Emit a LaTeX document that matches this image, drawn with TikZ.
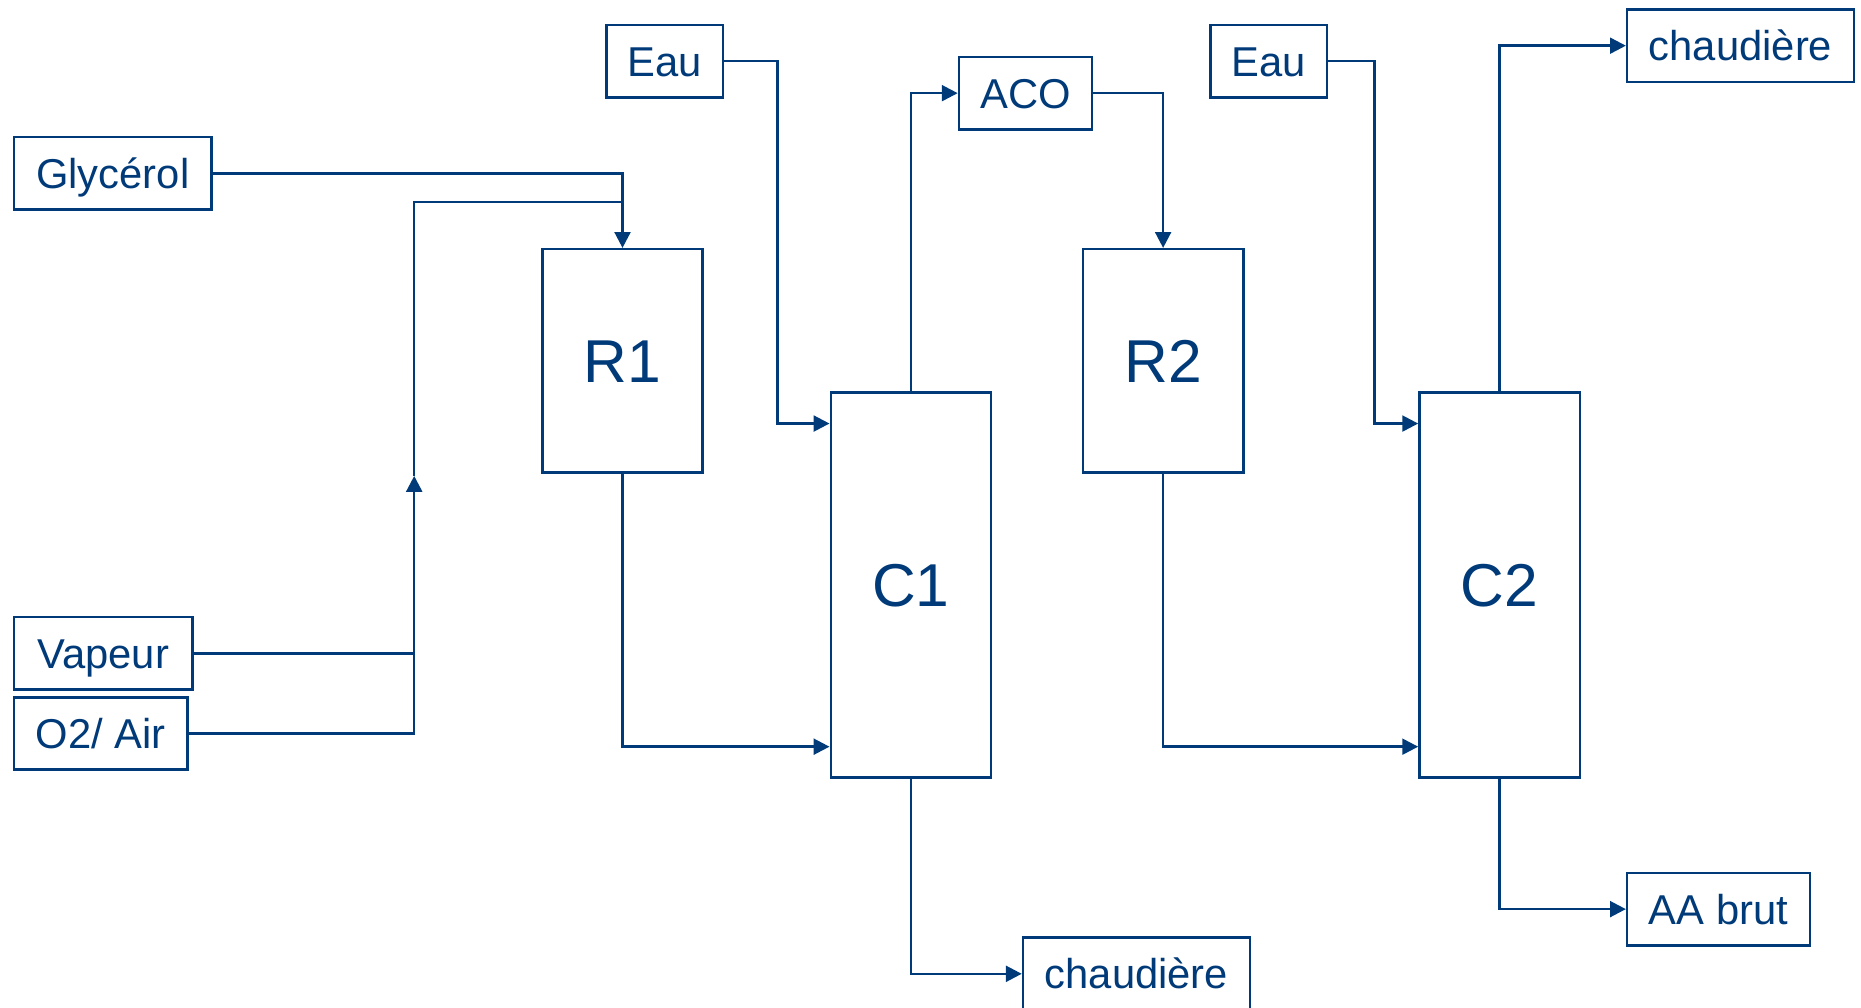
\documentclass[tikz,border=0pt]{standalone}
\usepackage{fontspec}
\setmainfont{Liberation Sans}
\usetikzlibrary{arrows.meta}
\definecolor{procblue}{RGB}{0,58,120}

\begin{document}
\begin{tikzpicture}[x=0.01cm, y=-0.01cm, line width=0.6pt, draw=procblue, >={Triangle[length=3.8pt, width=3.8pt]},
	every node/.style={text=procblue, font=\fontsize{10}{12}\selectfont},
	feed/.style={draw=procblue, inner sep=0pt, minimum height=0.61cm, text height=7.2pt, text depth=0pt, align=center},
	unit/.style={draw=procblue, inner sep=0pt, minimum width=1.35cm, text height=10.4pt, text depth=0pt, font=\fontsize{14.5}{16}\selectfont}]
	\useasboundingbox (0,0) rectangle (1568,849);
	% streams in and out
	\node[feed, minimum width=1.66cm] (gly) at (95,146) {Glycérol};
	\node[feed, minimum width=1.50cm] (vap) at (87,550.5) {Vapeur};
	\node[feed, minimum width=1.46cm] (air) at (85,618) {O2/ Air};
	\node[feed, minimum width=0.98cm] (eau1) at (560,51.5) {Eau};
	\node[feed, minimum width=1.12cm] (aco) at (864,78.5) {ACO};
	\node[feed, minimum width=0.98cm] (eau2) at (1069,51.5) {Eau};
	\node[feed, minimum width=1.91cm] (ch2) at (1466.5,38.5) {chaudière};
	\node[feed, minimum width=1.91cm] (ch1) at (957.5,820.5) {chaudière};
	\node[feed, minimum width=1.54cm] (aab) at (1448,766) {AA brut};
	% reactors and columns
	\node[unit, minimum height=1.88cm] (r1) at (524.5,304) {R1};
	\node[unit, minimum height=3.24cm] (c1) at (767.5,493) {C1};
	\node[unit, minimum height=1.88cm] (r2) at (980,304) {R2};
	\node[unit, minimum height=3.24cm] (c2) at (1263.5,493) {C2};
	\coordinate (up) at (349,401);
	\coordinate (jn) at (524.5,170);
	% connections
	\draw[->] (gly.east) -| (r1.north);
	\draw[->] (air.east) -| (up);
	\draw (up) |- (jn);
	\draw (vap.east) -- (vap.east -| up);
	\draw[->] (eau1.east) -- ++(45,0) |- ([yshift=-0.27cm]c1.north west);
	\draw[->] (r1.south) |- ([yshift=0.27cm]c1.south west);
	\draw[->] (c1.north) |- (aco.west);
	\draw[->] (aco.east) -| (r2.north);
	\draw[->] (c1.south) |- (ch1.west);
	\draw[->] (eau2.east) -- ++(39,0) |- ([yshift=-0.27cm]c2.north west);
	\draw[->] (r2.south) |- ([yshift=0.27cm]c2.south west);
	\draw[->] (c2.north) |- (ch2.west);
	\draw[->] (c2.south) |- (aab.west);
\end{tikzpicture}
\end{document}
